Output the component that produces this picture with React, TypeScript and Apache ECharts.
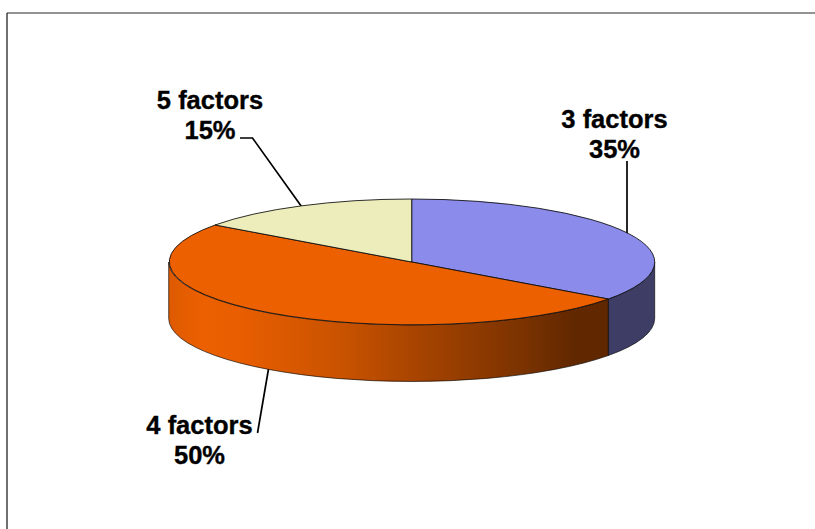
import React, { useEffect, useRef } from "react";
import * as echarts from "echarts";

const categories = ["3 factors", "4 factors", "5 factors"];
const shares = [35, 50, 15];
const topColors = ["#8B8BEC", "#ED6000", "#EDEDBC"];

const CX = 411.7;
const CY = 262;
const RX = 243;
const RY = 63;
const DEPTH = 56.5;
const FONT = '"Liberation Sans", Arial, sans-serif';

const labelLayout = [
  { x: 614.5, y: 134 },
  { x: 199.5, y: 440 },
  { x: 210, y: 115 },
];
const leaderLayout = [
  [[627, 161], [627, 234]],
  [[257.5, 433], [268.5, 369]],
  [[240, 138], [252.5, 138], [301.5, 206.5]],
];

const sideFills = [
  "#3D3D66",
  new echarts.graphic.LinearGradient(0, 0, 1, 0, [
    { offset: 0, color: "#DE5A00" },
    { offset: 0.08, color: "#EC6000" },
    { offset: 0.16, color: "#E85E00" },
    { offset: 0.4, color: "#C85200" },
    { offset: 0.55, color: "#AA4500" },
    { offset: 0.8, color: "#7C3300" },
    { offset: 0.92, color: "#622800" },
    { offset: 1, color: "#602800" },
  ]),
  "#6B6B4E",
];

const pt = (deg: number, dy = 0) => {
  const r = (deg * Math.PI) / 180;
  return [CX + RX * Math.sin(r), CY - RY * Math.cos(r) + dy];
};

const fmt = (p: number[]) => `${p[0].toFixed(2)} ${p[1].toFixed(2)}`;

function topPath(a0: number, a1: number) {
  const large = a1 - a0 > 180 ? 1 : 0;
  return `M ${CX} ${CY} L ${fmt(pt(a0))} A ${RX} ${RY} 0 ${large} 1 ${fmt(pt(a1))} Z`;
}

function sidePath(a0: number, a1: number) {
  const s = Math.max(a0, 90);
  const e = Math.min(a1, 270);
  if (e <= s) return null;
  return (
    `M ${fmt(pt(s))} A ${RX} ${RY} 0 0 1 ${fmt(pt(e))} ` +
    `L ${fmt(pt(e, DEPTH))} A ${RX} ${RY} 0 0 0 ${fmt(pt(s, DEPTH))} Z`
  );
}

export default function App() {
  const ref = useRef<HTMLDivElement>(null);

  useEffect(() => {
    document.body.style.margin = "0";
    const chart = echarts.init(ref.current!, null, { renderer: "svg" });
    const total = shares.reduce((a, b) => a + b, 0);

    chart.setOption({
      animation: false,
      backgroundColor: "#ffffff",
      graphic: [
        { type: "line", silent: true, shape: { x1: 7, y1: 13, x2: 815, y2: 13 }, style: { stroke: "#6E6E6E", lineWidth: 1.4 } },
        { type: "line", silent: true, shape: { x1: 7, y1: 13, x2: 7, y2: 529 }, style: { stroke: "#333333", lineWidth: 1.4 } },
      ],
      series: [
        {
          type: "custom",
          coordinateSystem: "none",
          data: shares.map((v) => [v]),
          silent: true,
          renderItem: (params: any, api: any) => {
            const i = params.dataIndex;
            const before = shares.slice(0, i).reduce((a, b) => a + b, 0);
            const a0 = (before / total) * 360;
            const a1 = ((before + api.value(0)) / total) * 360;
            const children: any[] = [];
            children.push({
              type: "polyline",
              shape: { points: leaderLayout[i] },
              style: { stroke: "#000000", lineWidth: 1.7, fill: "none" },
            });
            const side = sidePath(a0, a1);
            if (side) {
              children.push({
                type: "path",
                shape: { pathData: side },
                style: { fill: sideFills[i], stroke: "rgba(0,0,0,0.7)", lineWidth: 0.9 },
              });
            }
            children.push({
              type: "path",
              shape: { pathData: topPath(a0, a1) },
              style: { fill: topColors[i], stroke: "rgba(10,10,10,0.85)", lineWidth: 1 },
            });
            children.push({
              type: "text",
              x: labelLayout[i].x,
              y: labelLayout[i].y,
              style: {
                text: `${categories[i]}\n${api.value(0)}%`,
                fill: "#000000",
                stroke: "#000000",
                lineWidth: 0.35,
                font: `bold 25.5px ${FONT}`,
                lineHeight: 30,
                align: "center",
                verticalAlign: "middle",
              },
            });
            return { type: "group", children };
          },
        },
      ],
    });
    return () => chart.dispose();
  }, []);

  return <div ref={ref} style={{ width: 815, height: 529 }} />;
}
